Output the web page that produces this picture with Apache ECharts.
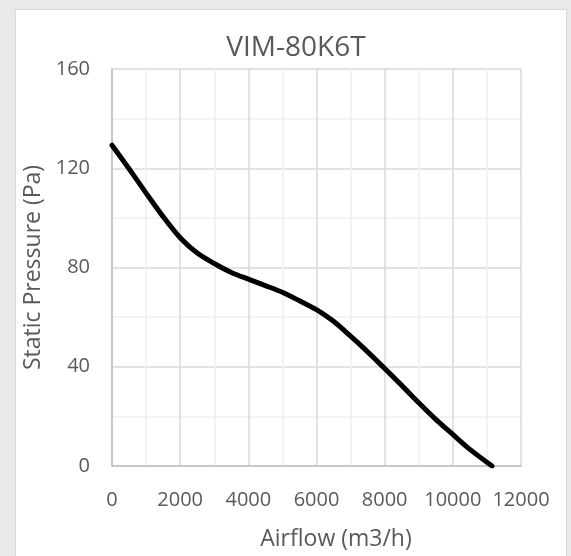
<!DOCTYPE html>
<html>
<head>
<meta charset="utf-8">
<script src="https://cdn.jsdelivr.net/npm/echarts@6/dist/echarts.min.js"></script>
<style>
  html, body { margin: 0; padding: 0; background: #e9e9e9; }
  #chart { width: 571px; height: 556px; }
</style>
</head>
<body>
<div id="chart"></div>
<script>
const titleText = 'VIM-80K6T';
const xName = 'Airflow (m3/h)';
const yName = 'Static Pressure (Pa)';
const airflow = [0, 500, 1000, 1500, 2000, 2500, 3000, 3500, 4000, 4500, 5000, 5500, 6000, 6500, 7000, 7500, 8000, 8500, 9000, 9500, 10000, 10500, 11150];
const pressure = [129.3, 119.8, 110, 100.5, 92, 85.8, 81.6, 78, 75.3, 72.7, 70, 66.6, 63, 58.3, 52.3, 46, 39.3, 32.5, 25.5, 18.8, 12.7, 6.7, 0];

const chart = echarts.init(document.getElementById('chart'));
const textColor = '#595959';
const font = 'Open Sans';

chart.setOption({
  backgroundColor: 'transparent',
  animation: false,
  graphic: [{
    type: 'rect',
    shape: { x: 15.5, y: 9.5, width: 551, height: 560 },
    style: { fill: '#ffffff', stroke: '#d9d9d9', lineWidth: 1 },
    z: -10
  }],
  title: {
    text: titleText,
    left: 291,
    textAlign: 'center',
    top: 28,
    textStyle: { color: textColor, fontFamily: font, fontSize: 28, fontWeight: 'normal', lineHeight: 30 }
  },
  grid: { left: 112, right: 50, top: 69, bottom: 86 },
  xAxis: {
    type: 'value',
    min: 0, max: 12000, interval: 2000,
    name: xName,
    nameLocation: 'middle',
    nameGap: 62,
    nameTextStyle: { color: textColor, fontFamily: font, fontSize: 23, padding: [0, 0, 0, 39] },
    axisLine: { show: true, lineStyle: { color: '#bfbfbf', width: 1.5 } },
    axisTick: { show: false },
    axisLabel: { color: textColor, fontFamily: font, fontSize: 20, margin: 24, formatter: v => String(v) },
    splitLine: { show: true, lineStyle: { color: '#d9d9d9', width: 1.5 } },
    minorTick: { show: false, splitNumber: 2 },
    minorSplitLine: { show: true, lineStyle: { color: '#efefef', width: 1.5 } }
  },
  yAxis: {
    type: 'value',
    min: 0, max: 160, interval: 40,
    name: yName,
    nameLocation: 'middle',
    nameGap: 60,
    nameTextStyle: { color: textColor, fontFamily: font, fontSize: 23 },
    axisLine: { show: true, lineStyle: { color: '#bfbfbf', width: 1.5 } },
    axisTick: { show: false },
    axisLabel: { color: textColor, fontFamily: font, fontSize: 20, margin: 22 },
    splitLine: { show: true, lineStyle: { color: '#d9d9d9', width: 1.5 } },
    minorTick: { show: false, splitNumber: 2 },
    minorSplitLine: { show: true, lineStyle: { color: '#efefef', width: 1.5 } }
  },
  series: [{
    type: 'line',
    data: airflow.map((x, i) => [x, pressure[i]]),
    smooth: 0.3,
    showSymbol: false,
    lineStyle: { color: '#000000', width: 5, cap: 'round', join: 'round' }
  }]
});
</script>
</body>
</html>
